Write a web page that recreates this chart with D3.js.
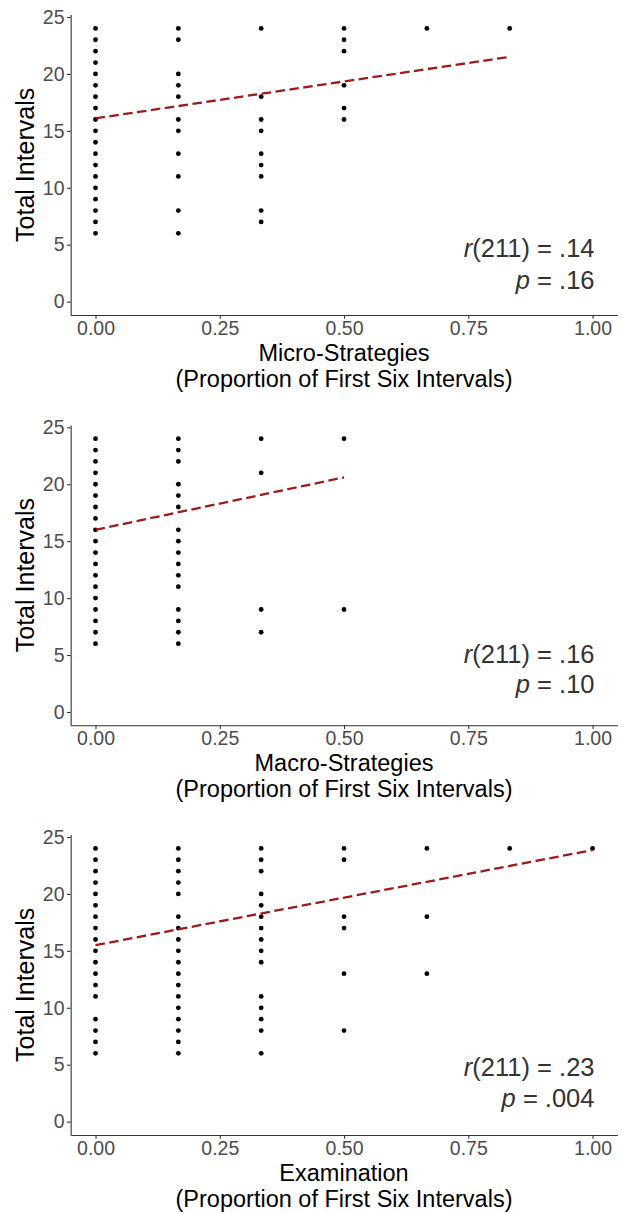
<!DOCTYPE html>
<html>
<head>
<meta charset="utf-8">
<script src="https://cdn.jsdelivr.net/npm/d3@7/dist/d3.min.js"></script>
<style>
  html, body { margin: 0; padding: 0; background: #fff; }
  svg { display: block; }
  text { font-family: "Liberation Sans", Arial, Helvetica, sans-serif; }
</style>
</head>
<body>
<svg id="chart" width="622" height="1213"></svg>
<script>
// ---- Data ----
const xLevels = [0, 1/6, 2/6, 3/6, 4/6, 5/6, 1];
const xTicks = [0, 0.25, 0.5, 0.75, 1];
const yTicks = [0, 5, 10, 15, 20, 25];

// Total Intervals values present at each x level (per panel)
const microValues = [
  [24, 23, 22, 21, 20, 19, 18, 17, 16, 15, 14, 13, 12, 11, 10, 9, 8, 7, 6],
  [24, 23, 20, 19, 18, 16, 15, 13, 11, 8, 6],
  [24, 18, 16, 15, 13, 12, 11, 8, 7],
  [24, 23, 22, 19, 17, 16],
  [24],
  [24],
  []
];
const macroValues = [
  [24, 23, 22, 21, 20, 19, 18, 17, 16, 15, 14, 13, 12, 11, 10, 9, 8, 7, 6],
  [24, 23, 22, 20, 19, 18, 16, 15, 14, 13, 12, 11, 9, 8, 7, 6],
  [24, 21, 9, 7],
  [24, 9],
  [],
  [],
  []
];
const examValues = [
  [24, 23, 22, 21, 20, 19, 18, 17, 16, 15, 14, 13, 12, 11, 9, 8, 7, 6],
  [24, 23, 22, 21, 20, 18, 17, 16, 15, 14, 13, 12, 11, 10, 9, 8, 7, 6],
  [24, 23, 22, 20, 19, 18, 17, 16, 15, 14, 11, 10, 9, 8, 6],
  [24, 23, 18, 17, 13, 8],
  [24, 18, 13],
  [24],
  [24]
];

const panelTitles = ["Micro-Strategies", "Macro-Strategies", "Examination"];
const subTitle = "(Proportion of First Six Intervals)";
const fitIntercepts = [16.1, 16.0, 15.5];
const fitSlopes = [6.48, 9.2, 8.35];
const statR = [".14", ".16", ".23"];
const statP = [".16", ".10", ".004"];
const dfLabel = "211";

// ---- Layout ----
const panelTops = [14.6, 424.9, 834.6];
const panelH = 300.4;
const xLeft = 70.65, xRight = 617.4;
const annoOffR = [58, 62, 59];
const annoOffP = [26, 32, 28.5];

const svg = d3.select("#chart");
const x = d3.scaleLinear().domain([-0.05, 1.05]).range([xLeft, xRight]);

const panels = [microValues, macroValues, examValues];

panels.forEach((vals, i) => {
  const top = panelTops[i];
  const bottom = top + panelH;
  const y = d3.scaleLinear().domain([-1.17, 25.21]).range([bottom, top]);

  const pts = [];
  vals.forEach((col, k) => col.forEach(v => pts.push({x: xLevels[k], y: v})));

  const g = svg.append("g");

  // axes
  const xa = g.append("g").attr("transform", `translate(0,${bottom})`)
    .call(d3.axisBottom(x).tickValues(xTicks).tickFormat(d3.format(".2f"))
      .tickSize(3.7).tickSizeOuter(0).tickPadding(2.5));
  const ya = g.append("g").attr("transform", `translate(${xLeft},0)`)
    .call(d3.axisLeft(y).tickValues(yTicks).tickSize(3.7).tickSizeOuter(0).tickPadding(2.4));
  [xa, ya].forEach(a => {
    a.select(".domain").attr("stroke", "#333").attr("stroke-width", 1.1);
    a.selectAll(".tick line").attr("stroke", "#333").attr("stroke-width", 1.1);
    a.selectAll(".tick text").attr("fill", "#4d4d4d")
      .style("font-size", "19.5px").style("font-family", '"Liberation Sans", Arial, sans-serif');
  });

  // points
  g.append("g").selectAll("circle").data(pts).join("circle")
    .attr("cx", d => x(d.x)).attr("cy", d => y(d.y)).attr("r", 2.4).attr("fill", "#000");

  // regression line
  const ext = d3.extent(pts, d => d.x);
  const fit = ext.map(v => ({x: v, y: fitIntercepts[i] + fitSlopes[i] * v}));
  g.append("path").datum(fit)
    .attr("d", d3.line().x(d => x(d.x)).y(d => y(d.y)))
    .attr("fill", "none").attr("stroke", "#9b1c1c").attr("stroke-width", 2.3)
    .attr("stroke-dasharray", "9.5,4.5");

  // annotation
  const ax = 594.5;
  const t1 = g.append("text").attr("x", ax).attr("y", bottom - annoOffR[i])
    .attr("text-anchor", "end").attr("fill", "#333").style("font-size", "25.5px");
  t1.append("tspan").style("font-style", "italic").text("r");
  t1.append("tspan").text(`(${dfLabel}) = ${statR[i]}`);
  const t2 = g.append("text").attr("x", ax).attr("y", bottom - annoOffP[i])
    .attr("text-anchor", "end").attr("fill", "#333").style("font-size", "25.5px");
  t2.append("tspan").style("font-style", "italic").text("p");
  t2.append("tspan").text(` = ${statP[i]}`);

  // x titles
  const cx = (xLeft + xRight) / 2;
  g.append("text").attr("x", cx).attr("y", bottom + 45.5).attr("text-anchor", "middle")
    .attr("fill", "#000").style("font-size", "23.5px").text(panelTitles[i]);
  g.append("text").attr("x", cx).attr("y", bottom + 72).attr("text-anchor", "middle")
    .attr("fill", "#000").style("font-size", "23.5px").text(subTitle);

  // y title
  g.append("text").attr("transform", `translate(33.5,${(top + bottom) / 2}) rotate(-90)`)
    .attr("text-anchor", "middle").attr("fill", "#000").style("font-size", "25px")
    .text("Total Intervals");
});
</script>
</body>
</html>
